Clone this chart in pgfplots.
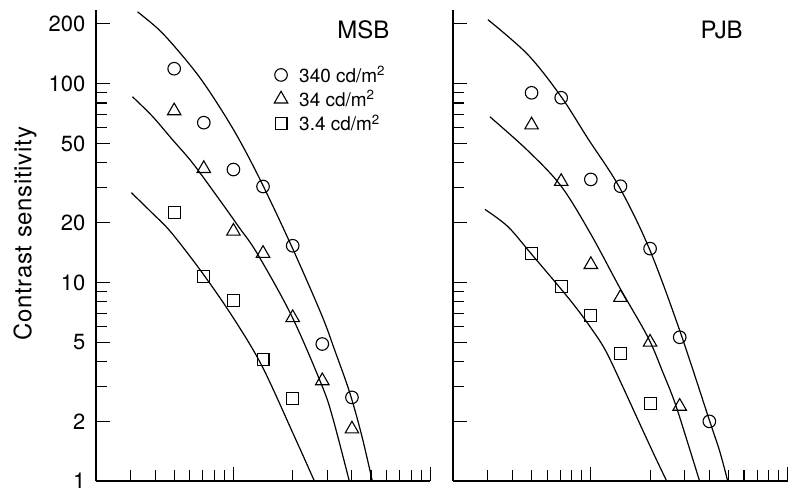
\documentclass[border=0pt]{standalone}
\usepackage{pgfplots}
\pgfplotsset{compat=1.18}
\usepackage{fontspec}
\setmainfont{TeX Gyre Heros}
\newfontfamily\labelfont[LetterSpace=3]{TeX Gyre Heros}

\tikzset{
  fitline/.style={black, line width=1.2pt},
  circmark/.style={black, line width=1.1pt, mark=o, mark size=6.3pt},
  trimark/.style={black, line width=1.1pt, mark=triangle, mark size=7.8pt},
  sqmark/.style={black, line width=1.1pt, mark=square, mark size=6pt},
}

\begin{document}
\begin{tikzpicture}
% ---------------- observer MSB ----------------
\begin{axis}[
    width=335pt, height=472pt, scale only axis,
    xmode=log, ymode=log,
    xmin=2, xmax=100, ymin=1, ymax=235,
    axis x line=bottom, axis y line=left,
    axis line style={-, line width=2pt},
    tick align=inside,
    xtick={10,100},
    minor xtick={3,4,5,6,7,8,9,20,30,40,50,60,70,80,90},
    xticklabels={},
    ytick={1,2,5,10,20,50,100,200},
    minor ytick={3,4,6,7,8,9,30,40,60,70,80,90},
    major tick length=14pt, minor tick length=11pt,
    tick style={black, line width=1.1pt},
    /pgf/number format/assume math mode=true,
    yticklabel style={font=\fontsize{22}{22}\selectfont, xshift=-7pt},
    yticklabels={1,2,5,10,20,50,100,200},
    clip=false,
    legend style={draw=none, fill=none, at={(rel axis cs:0.533,0.885)}, anchor=north west,
      font=\fontsize{19}{19}\selectfont, row sep=3pt, inner sep=0pt},
    legend cell align=left,
    legend image code/.code={%
      \draw[mark repeat=2, mark phase=2, #1] plot coordinates {(0cm,0cm) (0.3cm,0cm) (0.6cm,0cm)};
      \path (0.85cm,0cm);},
  ]
  \addplot[circmark, only marks] table {
    x     y
    5     119
    7.07  63.7
    10    37
    14.14 30.4
    20    15.3
    28.28 4.9
    40    2.64
  };
  \addlegendentry{340 cd/m\textsuperscript{2}}
  \addplot[trimark, only marks] table {
    x     y
    5     73
    7.07  37.4
    10    18.1
    14.14 14.0
    20    6.65
    28.28 3.2
    40    1.83
  };
  \addlegendentry{34 cd/m\textsuperscript{2}}
  \addplot[sqmark, only marks] table {
    x     y
    5     22.5
    7.07  10.7
    10    8.1
    14.14 4.1
    20    2.6
  };
  \addlegendentry{3.4 cd/m\textsuperscript{2}}
  % fitted curves
  \addplot[fitline, smooth, tension=0.55, no marks, forget plot] table {
    x    y
    3.26 230
    4.21 186
    5.32 144
    6.72 108
    8.49 76.6
    10.7 52.3
    13.9 31.8
    19.7 15.3
    28.0 6.9
    32.6 4.6
    38.8 2.83
    44.7 1.72
    50.8 1
  };
  \addplot[fitline, smooth, tension=0.55, no marks, forget plot] table {
    x    y
    3.07 86
    3.88 68.5
    4.90 52.3
    6.19 40
    8.49 26.1
    10.7 18.9
    13.2 14.0
    19.7 6.83
    28.0 3.07
    31.8 2.12
    38.8 1
  };
  \addplot[fitline, smooth, tension=0.55, no marks, forget plot] table {
    x    y
    3.03 28.3
    3.84 22.5
    4.84 17.8
    7.05 10.96
    10.1 6.52
    14.0 3.78
    20.4 1.68
    25.8 1
  };
  \node[anchor=east, font=\fontsize{24}{24}\selectfont] at (rel axis cs:0.888,0.958) {MSB};
  \node[rotate=90, font=\labelfont\fontsize{24}{24}\selectfont] at (rel axis cs:-0.212,0.525) {Contrast sensitivity};
\end{axis}

% ---------------- observer PJB ----------------
\begin{axis}[
    at={(358pt,0pt)},
    width=335pt, height=472pt, scale only axis,
    xmode=log, ymode=log,
    xmin=2, xmax=100, ymin=1, ymax=235,
    axis x line=bottom, axis y line=left,
    axis line style={-, line width=2pt},
    tick align=inside,
    xtick={10,100},
    minor xtick={3,4,5,6,7,8,9,20,30,40,50,60,70,80,90},
    xticklabels={},
    ytick={1,2,5,10,20,50,100,200},
    minor ytick={3,4,6,7,8,9,30,40,60,70,80,90},
    major tick length=14pt, minor tick length=11pt,
    tick style={black, line width=1.1pt},
    yticklabels={},
    clip=false,
  ]
  \addplot[circmark, only marks] table {
    x     y
    5     90
    7.07  85
    10    33
    14.14 30.5
    20    14.8
    28.28 5.3
    40    2.0
  };
  \addplot[trimark, only marks] table {
    x     y
    5     62
    7.07  32.2
    10    12.3
    14.14 8.4
    20    5.0
    28.28 2.38
  };
  \addplot[sqmark, only marks] table {
    x     y
    5     14.0
    7.07  9.55
    10    6.83
    14.14 4.4
    20    2.47
  };
  % fitted curves
  \addplot[fitline, smooth, tension=0.55, no marks] table {
    x    y
    3.0  210
    4.79 140
    7.07 86
    9.66 53
    13.9 30.4
    19.7 15.0
    28.0 5.9
    40.2 2.0
    45.2 1.41
    49.6 1
  };
  \addplot[fitline, smooth, tension=0.55, no marks] table {
    x    y
    3.07 68.2
    4.79 46
    7.07 30.5
    10   17.5
    14.0 9.44
    19.5 5.3
    23.2 3.54
    26.7 2.49
    31   1.57
    35.7 1
  };
  \addplot[fitline, smooth, tension=0.55, no marks] table {
    x    y
    2.90 23.3
    3.79 19.1
    4.96 14.0
    6.88 9.55
    8.3  7.6
    9.9  6.0
    11.8 4.6
    14.2 3.14
    17.3 2.05
    21.1 1.34
    24.3 1
  };
  \node[anchor=east, font=\fontsize{24}{24}\selectfont] at (rel axis cs:0.876,0.958) {PJB};
\end{axis}
\path (-96pt,-9pt) rectangle (695pt,482pt);
\end{tikzpicture}
\end{document}
